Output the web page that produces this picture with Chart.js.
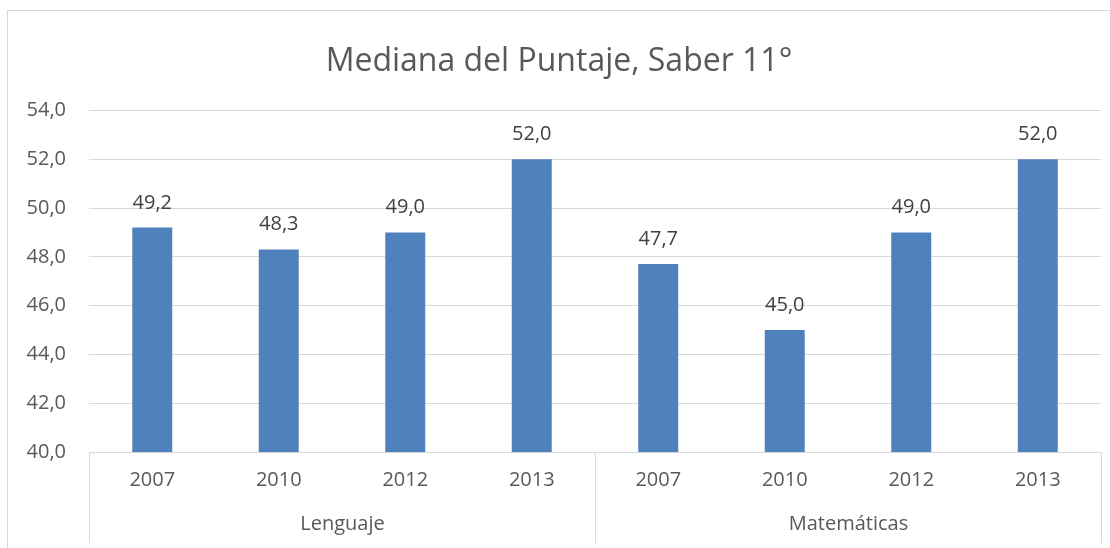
<!DOCTYPE html>
<html>
<head>
<meta charset="utf-8">
<script src="https://cdn.jsdelivr.net/npm/chart.js@4"></script>
<style>
  html, body { margin: 0; padding: 0; background: #fff; }
  #wrap { width: 1110px; height: 548px; position: relative; }
</style>
</head>
<body>
<div id="wrap"><canvas id="chart"></canvas></div>
<script>
// ── DATA ──
const years = ['2007', '2010', '2012', '2013'];
const groups = ['Lenguaje', 'Matemáticas'];
const lenguaje = [49.2, 48.3, 49.0, 52.0];
const matematicas = [47.7, 45.0, 49.0, 52.0];
const yTicks = [40, 42, 44, 46, 48, 50, 52, 54];

const FONT = "'Open Sans', sans-serif";
const TEXT = '#595959';
const GRID = '#D9D9D9';

const fmt = v => Number(v).toFixed(1).replace('.', ',');

// frame + white background
const framePlugin = {
    id: 'frame',
    beforeDraw(chart) {
        const c = chart.ctx;
        c.save();
        c.fillStyle = '#fff';
        c.fillRect(0, 0, chart.width, chart.height);
        c.strokeStyle = GRID;
        c.lineWidth = 1;
        c.strokeRect(7.5, 10.5, chart.width, chart.height);
        c.restore();
    }
};

// value labels over the bars
const valueLabels = {
    id: 'valueLabels',
    afterDatasetsDraw(chart) {
        const c = chart.ctx;
        const meta = chart.getDatasetMeta(0);
        c.save();
        c.font = '20px ' + FONT;
        c.fillStyle = '#404040';
        c.textAlign = 'center';
        c.textBaseline = 'alphabetic';
        meta.data.forEach((bar, i) => {
            c.fillText(fmt(chart.data.datasets[0].data[i]), bar.x, bar.y - 19);
        });
        c.restore();
    }
};

// second level of the category axis: group names + separators
const groupAxis = {
    id: 'groupAxis',
    afterDraw(chart) {
        const x = chart.scales.x;
        const c = chart.ctx;
        const top = chart.chartArea.bottom;
        const bottom = 543;
        const n = years.length;
        const step = x.getPixelForValue(1) - x.getPixelForValue(0);
        const edges = [];
        for (let g = 0; g <= groups.length; g++) {
            const i = g * n;
            let px;
            if (i === 0) px = x.getPixelForValue(0) - step / 2;
            else if (i >= x.ticks.length) px = x.getPixelForValue(i - 1) + step / 2;
            else px = (x.getPixelForValue(i - 1) + x.getPixelForValue(i)) / 2;
            edges.push(Math.round(px) + 0.5);
        }
        c.save();
        c.strokeStyle = GRID;
        c.lineWidth = 1;
        edges.forEach(px => {
            c.beginPath();
            c.moveTo(px, top);
            c.lineTo(px, bottom);
            c.stroke();
        });
        c.font = '20px ' + FONT;
        c.fillStyle = TEXT;
        c.textAlign = 'center';
        c.textBaseline = 'middle';
        groups.forEach((name, g) => {
            c.fillText(name, (edges[g] + edges[g + 1]) / 2, 524);
        });
        c.restore();
    }
};

new Chart(document.getElementById('chart'), {
    type: 'bar',
    data: {
        labels: groups.flatMap(() => years),
        datasets: [{
            data: lenguaje.concat(matematicas),
            backgroundColor: '#4F81BD',
            barPercentage: 0.316,
            categoryPercentage: 1
        }]
    },
    options: {
        responsive: true,
        maintainAspectRatio: false,
        animation: false,
        layout: { padding: { left: 17, right: 9, top: 0, bottom: 0 } },
        plugins: {
            legend: { display: false },
            tooltip: { enabled: false },
            title: {
                display: true,
                text: 'Mediana del Puntaje, Saber 11°',
                color: TEXT,
                font: { family: FONT, size: 32, weight: 'normal' },
                padding: { top: 43, bottom: 29 }
            }
        },
        scales: {
            x: {
                grid: { display: false, drawTicks: false },
                border: { color: GRID },
                ticks: { color: TEXT, font: { family: FONT, size: 20 }, padding: 16, maxRotation: 0 },
                afterFit: s => { s.height = 96; }
            },
            y: {
                min: 40,
                max: 54,
                afterBuildTicks: s => { s.ticks = yTicks.map(v => ({ value: v })); },
                grid: { color: GRID, drawTicks: false },
                border: { display: false },
                ticks: { color: TEXT, font: { family: FONT, size: 20 }, padding: 23, callback: v => fmt(v) },
                afterFit: s => { s.width = 72; }
            }
        }
    },
    plugins: [framePlugin, valueLabels, groupAxis]
});
</script>
</body>
</html>
